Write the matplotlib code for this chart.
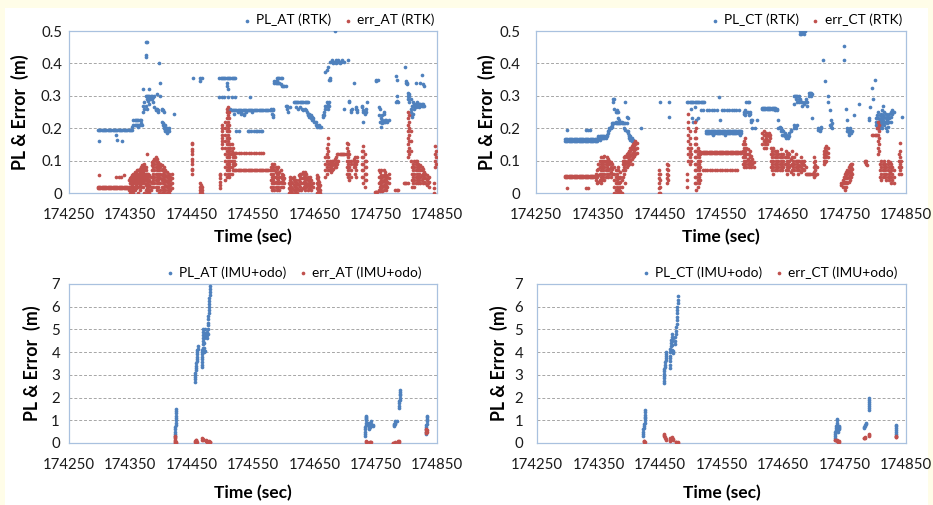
import numpy as np
import matplotlib
matplotlib.use("Agg")
import matplotlib.pyplot as plt
from matplotlib.patches import Rectangle
from matplotlib.ticker import FuncFormatter

plt.rcParams['font.family'] = ['Lato', 'DejaVu Sans']

T0 = 174000  # times below are seconds after T0

# ---- RTK, along-track ----
pl_at_rtk = [
    (297, [0.195]), (299, [0.195, 0.16]), (301, [0.195]), (303, [0.195]), (305, [0.195]),
    (307, [0.195]), (309, [0.195]), (311, [0.195]), (313, [0.195]), (315, [0.195]),
    (317, [0.195]), (319, [0.195]), (321, [0.195]), (323, [0.195]), (325, [0.195]),
    (327, [0.195, 0.18]), (329, [0.195, 0.165]), (331, [0.195]), (333, [0.195]), (335, [0.195]),
    (337, [0.195, 0.16]), (339, [0.195]), (341, [0.195]), (343, [0.195]), (345, [0.195]),
    (347, [0.195]), (349, [0.195]), (351, [0.195]), (353, [0.195, 0.205]),
    (355, [0.21, 0.225]), (357, [0.21, 0.225]), (359, [0.21, 0.225]), (361, [0.21, 0.225]),
    (363, [0.21, 0.225, 0.205]), (365, [0.21, 0.225]), (367, [0.215, 0.225]), (369, [0.21]),
    (371, [0.25, 0.27, 0.32]), (373, [0.26, 0.28]), (375, [0.42, 0.425, 0.465, 0.3, 0.27]),
    (377, [0.465, 0.29, 0.3, 0.26]), (379, [0.295, 0.3, 0.285]), (381, [0.3, 0.29, 0.32, 0.275]),
    (383, [0.3, 0.295, 0.29]), (385, [0.3, 0.29]), (387, [0.295, 0.28]), (389, [0.3, 0.265]),
    (391, [0.255, 0.26]), (393, [0.255, 0.26, 0.305]), (395, [0.25, 0.255]), (397, [0.4]),
    (399, [0.34, 0.3]), (401, [0.255, 0.26, 0.22]), (403, [0.255, 0.215, 0.21]),
    (405, [0.25, 0.205, 0.2, 0.21]), (407, [0.195, 0.19, 0.2, 0.21]), (409, [0.19, 0.185, 0.2]),
    (411, [0.19, 0.195]), (413, [0.2, 0.19]), (421, [0.245]),
    (452, [0.355]), (464, [0.355, 0.345]), (466, [0.355]),
    (495, [0.355, 0.295]), (497, [0.355]), (499, [0.355, 0.295]), (501, [0.355]),
    (503, [0.355, 0.295]), (505, [0.355]), (507, [0.355, 0.34, 0.33]), (509, [0.355, 0.32, 0.295]),
    (511, [0.355, 0.255]), (513, [0.355, 0.255, 0.26]), (515, [0.355, 0.255, 0.295]),
    (517, [0.355, 0.255]), (519, [0.355, 0.255, 0.245]), (521, [0.355, 0.255, 0.295]),
    (523, [0.255, 0.19]), (525, [0.255, 0.25]), (527, [0.255, 0.19]), (529, [0.255]),
    (531, [0.255, 0.25, 0.245]), (533, [0.255]), (535, [0.255, 0.245, 0.24]), (537, [0.255]),
    (539, [0.255, 0.25]), (541, [0.255, 0.19]), (543, [0.255, 0.19]), (545, [0.255, 0.295]),
    (547, [0.255, 0.19]), (549, [0.255, 0.25]), (551, [0.255, 0.19]), (553, [0.255]),
    (555, [0.255, 0.19]), (557, [0.255, 0.19]), (559, [0.255, 0.19]), (561, [0.255]),
    (563, [0.255, 0.19]), (565, [0.255, 0.19]), (567, [0.255]), (569, [0.255]), (571, [0.255]),
    (573, [0.255]), (575, [0.255]), (577, [0.255]), (579, [0.255, 0.26]), (581, [0.255, 0.245]),
    (583, [0.255, 0.24, 0.26, 0.235]),
    (585, [0.34, 0.345]), (587, [0.34, 0.345]), (589, [0.34, 0.355, 0.345]), (591, [0.34, 0.355]),
    (593, [0.355, 0.34]), (595, [0.355, 0.335]), (597, [0.355, 0.33]), (599, [0.33]), (601, [0.33]),
    (603, [0.33, 0.27]), (605, [0.27, 0.26]), (607, [0.25]), (611, [0.265]),
    (616, [0.28]), (618, [0.28]), (620, [0.28, 0.265]), (622, [0.28]), (624, [0.28, 0.26]),
    (626, [0.28, 0.265]), (628, [0.28]), (630, [0.28, 0.26]), (632, [0.28, 0.255]),
    (634, [0.28, 0.26]), (636, [0.28, 0.255]), (638, [0.28, 0.25]), (640, [0.28, 0.245, 0.24]),
    (642, [0.245, 0.235]), (644, [0.24, 0.23]), (646, [0.235, 0.225]), (648, [0.225, 0.23]),
    (650, [0.22]), (652, [0.22, 0.21]), (655, [0.21, 0.205]), (657, [0.205, 0.21]), (659, [0.205]),
    (661, [0.205]),
    (664, [0.235, 0.24]), (666, [0.24, 0.25]), (668, [0.26, 0.27, 0.375]), (670, [0.27, 0.28, 0.38]),
    (672, [0.275, 0.39, 0.26]), (674, [0.35, 0.28, 0.27]), (676, [0.405, 0.35, 0.355]),
    (678, [0.405, 0.41]), (680, [0.405, 0.4]), (683, [0.405, 0.5]), (685, [0.41, 0.4]), (687, [0.405]),
    (689, [0.405, 0.41]), (691, [0.405, 0.4]), (693, [0.405]), (695, [0.41]), (698, [0.26, 0.405]),
    (705, [0.41]), (707, [0.285, 0.28]), (709, [0.25, 0.255]), (711, [0.26]), (714, [0.34]),
    (718, [0.265, 0.26]), (720, [0.255, 0.25]), (728, [0.265, 0.27]), (730, [0.22, 0.25, 0.255]),
    (732, [0.25, 0.245]), (734, [0.26, 0.25]), (736, [0.28]),
    (751, [0.35, 0.345]), (753, [0.35]), (755, [0.265, 0.24]), (757, [0.26, 0.22]),
    (759, [0.205, 0.22, 0.23]), (761, [0.215, 0.225, 0.24]), (763, [0.22, 0.245, 0.25]),
    (765, [0.225, 0.22]), (767, [0.225]), (769, [0.22]), (771, [0.225]),
    (783, [0.36, 0.28]), (785, [0.35, 0.3, 0.285]), (787, [0.28]), (797, [0.39]), (799, [0.34, 0.345]),
    (801, [0.34, 0.335]), (803, [0.3, 0.31, 0.29]), (805, [0.3, 0.305, 0.28]), (807, [0.29, 0.25, 0.26]),
    (809, [0.27, 0.24, 0.235]), (811, [0.28, 0.27, 0.245]), (813, [0.275, 0.27, 0.26]),
    (815, [0.34, 0.275, 0.27, 0.265]), (817, [0.275, 0.27, 0.28]), (819, [0.275, 0.27]),
    (821, [0.27, 0.275, 0.265]), (823, [0.34, 0.275, 0.27]), (825, [0.365, 0.27, 0.275]),
    (827, [0.335, 0.27, 0.275]), (829, [0.33, 0.27]),
]

err_at_rtk = [
    (297, [0.015, 0.02]), (299, [0.015, 0.02, 0.055]), (301, [0.015, 0.02]), (303, [0.015, 0.02]),
    (305, [0.015, 0.02]), (307, [0.015, 0.02]), (309, [0.015, 0.02]), (311, [0.015, 0.02]),
    (313, [0.015, 0.02]), (315, [0.015, 0.02]), (317, [0.015, 0.02]), (319, [0.015, 0.02]),
    (321, [0.015, 0.02]), (323, [0.015, 0.02]), (325, [0.015, 0.02]), (327, [0.015, 0.02, 0.05]),
    (329, [0.015, 0.02]), (331, [0.015, 0.02, 0.05]), (333, [0.015, 0.02]), (335, [0.015, 0.02, 0.05]),
    (337, [0.015, 0.02]), (339, [0.015, 0.02, 0.055]), (341, [0.015, 0.02]), (343, [0.015, 0.02]),
    (345, [0.015, 0.02]),
    (347, [0.02, 0.01, 0.04]), (349, [0.0, 0.02, 0.03, 0.045]), (351, [0.01, 0.02, 0.03, 0.04, 0.05]),
    (353, [0.005, 0.015, 0.025, 0.035, 0.045, 0.055]), (355, [0.0, 0.01, 0.02, 0.03, 0.04, 0.05, 0.06]),
    (357, [0.01, 0.02, 0.03, 0.04, 0.05, 0.06, 0.065]), (359, [0.015, 0.025, 0.035, 0.045, 0.055, 0.065]),
    (361, [0.02, 0.03, 0.04, 0.05, 0.06, 0.07]), (363, [0.0, 0.02, 0.03, 0.04, 0.05, 0.06, 0.07]),
    (365, [0.01, 0.025, 0.035, 0.045, 0.055, 0.065, 0.075]), (367, [0.02, 0.03, 0.04, 0.05, 0.06, 0.07, 0.08]),
    (369, [0.03, 0.04, 0.05, 0.06, 0.07, 0.08, 0.085]), (371, [0.02, 0.035, 0.045, 0.055, 0.065, 0.075, 0.085]),
    (373, [0.0, 0.03, 0.04, 0.05, 0.06, 0.07, 0.08, 0.09]), (375, [0.01, 0.025, 0.04, 0.05, 0.06, 0.07, 0.08]),
    (377, [0.12, 0.0, 0.015, 0.03, 0.045, 0.06]), (379, [0.005, 0.02, 0.035, 0.05, 0.06]),
    (381, [0.0, 0.01, 0.025, 0.04, 0.055]), (383, [0.01, 0.02, 0.035, 0.05]),
    (385, [0.03, 0.05, 0.07, 0.085, 0.095]), (387, [0.02, 0.04, 0.06, 0.08, 0.1]),
    (389, [0.03, 0.05, 0.07, 0.09, 0.105]), (391, [0.02, 0.04, 0.06, 0.08, 0.1, 0.11]),
    (393, [0.01, 0.03, 0.05, 0.07, 0.09, 0.105]), (395, [0.02, 0.04, 0.06, 0.08, 0.095]),
    (397, [0.0, 0.03, 0.05, 0.07, 0.09]), (399, [0.01, 0.03, 0.045, 0.06, 0.08, 0.09]),
    (401, [0.0, 0.02, 0.04, 0.055, 0.07, 0.085]), (403, [0.01, 0.03, 0.045, 0.06, 0.075]),
    (405, [0.0, 0.02, 0.035, 0.05, 0.065, 0.08]), (407, [0.01, 0.025, 0.04, 0.055, 0.07]),
    (409, [0.0, 0.02, 0.035, 0.05, 0.065]), (411, [0.01, 0.025, 0.04, 0.055]),
    (413, [0.0, 0.015, 0.03, 0.045, 0.06]), (415, [0.01, 0.025, 0.04, 0.05]), (418, [0.015, 0.03, 0.045, 0.06]),
    (450, [0.06, 0.075, 0.09, 0.105, 0.12, 0.135, 0.15, 0.155]), (451, [0.07, 0.1, 0.13]),
    (463, [0.0, 0.01, 0.02, 0.03]), (465, [0.0, 0.005, 0.015, 0.025]), (467, [0.0, 0.01, 0.02]),
    (496, [0.015, 0.025, 0.035, 0.045, 0.055, 0.06]),
    (499, [0.14, 0.15, 0.16, 0.17, 0.18, 0.19, 0.2, 0.21]),
    (505, [0.04, 0.06, 0.08, 0.1, 0.12, 0.14, 0.16, 0.18, 0.2, 0.22]),
    (507, [0.05, 0.07, 0.09, 0.11, 0.13, 0.15, 0.17, 0.19, 0.21, 0.23, 0.25, 0.26]),
    (509, [0.06, 0.08, 0.1, 0.12, 0.14, 0.16, 0.18, 0.2, 0.22, 0.24, 0.265]),
    (511, [0.05, 0.07, 0.09, 0.11, 0.13, 0.15, 0.17, 0.19, 0.21, 0.23, 0.25]),
    (513, [0.06, 0.08, 0.1, 0.12, 0.14, 0.15]), (515, [0.06, 0.08, 0.1, 0.12, 0.13, 0.15]),
    (517, [0.07, 0.09, 0.11, 0.125, 0.14]), (519, [0.07, 0.085, 0.1, 0.12]), (521, [0.07, 0.09, 0.11, 0.125]),
    (523, [0.07, 0.125]), (525, [0.07]), (527, [0.07, 0.125]), (529, [0.07]), (531, [0.07, 0.125]),
    (533, [0.07]), (535, [0.07, 0.125]), (537, [0.07]), (539, [0.07, 0.125]), (541, [0.07]),
    (543, [0.07, 0.125]), (545, [0.07]), (547, [0.07, 0.125]), (549, [0.07]), (551, [0.07, 0.125]),
    (553, [0.07]), (555, [0.07, 0.125]), (557, [0.07]), (559, [0.07, 0.125]), (561, [0.07]),
    (563, [0.07, 0.125]), (565, [0.07]), (567, [0.07, 0.125]), (569, [0.07]), (571, [0.07]),
    (573, [0.07]), (575, [0.07]), (577, [0.07]),
    (579, [0.02, 0.04, 0.06, 0.08]), (581, [0.01, 0.03, 0.05, 0.07, 0.09]), (583, [0.02, 0.04, 0.06, 0.08]),
    (585, [0.01, 0.03, 0.05, 0.07, 0.09]), (587, [0.02, 0.035, 0.05, 0.065, 0.08]),
    (589, [0.01, 0.03, 0.045, 0.06, 0.075]), (591, [0.02, 0.04, 0.06, 0.08]),
    (593, [0.01, 0.03, 0.05, 0.065]), (595, [0.02, 0.035, 0.05, 0.07]), (597, [0.03, 0.045, 0.06]),
    (599, [0.02, 0.04, 0.055]), (601, [0.03, 0.045]),
    (608, [0.0, 0.015, 0.03]), (610, [0.0, 0.01, 0.025, 0.04, 0.05]), (612, [0.005, 0.02, 0.035, 0.045]),
    (614, [0.0, 0.015, 0.03, 0.045]), (616, [0.01, 0.025, 0.04, 0.05]), (618, [0.0, 0.02, 0.035]),
    (620, [0.01, 0.025, 0.04]), (622, [0.0, 0.015, 0.03]),
    (625, [0.01, 0.025, 0.04, 0.055]), (627, [0.02, 0.035, 0.05, 0.06]), (629, [0.01, 0.03, 0.045, 0.06]),
    (631, [0.015, 0.03, 0.045, 0.065]), (633, [0.02, 0.035, 0.05, 0.06]),
    (635, [0.01, 0.025, 0.04, 0.055, 0.065]), (637, [0.02, 0.03, 0.045, 0.06]),
    (639, [0.01, 0.025, 0.04, 0.05]), (641, [0.015, 0.03, 0.045]), (643, [0.02, 0.035, 0.05]),
    (645, [0.01, 0.025, 0.04]), (647, [0.02, 0.03]),
    (654, [0.0, 0.015, 0.03, 0.045, 0.055]), (656, [0.0, 0.01, 0.025, 0.04, 0.05]),
    (658, [0.0, 0.02, 0.035]), (660, [0.0, 0.01, 0.025]),
    (668, [0.05, 0.07, 0.09, 0.11]), (670, [0.06, 0.08, 0.1, 0.12, 0.14]),
    (672, [0.07, 0.09, 0.11, 0.13, 0.15, 0.17]),
    (675, [0.07, 0.08, 0.09, 0.1]), (677, [0.065, 0.08, 0.095]), (679, [0.07, 0.085, 0.1]),
    (681, [0.075, 0.09, 0.1]), (683, [0.08, 0.09, 0.105]), (685, [0.08, 0.095, 0.11]),
    (687, [0.12, 0.09, 0.1]), (689, [0.12, 0.1]), (691, [0.12]), (693, [0.12]), (695, [0.12]),
    (697, [0.12]), (699, [0.12]), (701, [0.12]),
    (703, [0.06, 0.08, 0.1, 0.12, 0.14, 0.155]), (705, [0.05, 0.07, 0.09, 0.11, 0.13, 0.15]),
    (707, [0.04, 0.06, 0.08, 0.1, 0.12]), (709, [0.05, 0.07, 0.09, 0.1]),
    (714, [0.08, 0.09, 0.1, 0.105]), (716, [0.06, 0.08, 0.1, 0.11]), (718, [0.05, 0.07, 0.09]),
    (720, [0.1, 0.11]),
    (728, [0.05, 0.07, 0.09, 0.11, 0.13]), (730, [0.03, 0.05, 0.07, 0.09, 0.11, 0.13, 0.145]),
    (732, [0.02, 0.04, 0.06, 0.08, 0.1, 0.12]), (734, [0.04, 0.06, 0.08, 0.1]),
    (749, [0.003]), (750, [0.003]), (751, [0.003]), (752, [0.003]),
    (755, [0.01, 0.03, 0.05, 0.07]), (757, [0.005, 0.02, 0.035, 0.05, 0.065]),
    (759, [0.01, 0.025, 0.04, 0.055, 0.07]), (761, [0.005, 0.02, 0.035, 0.05]),
    (763, [0.01, 0.025, 0.04, 0.055, 0.07]), (765, [0.02, 0.035, 0.05, 0.065]),
    (767, [0.01, 0.025, 0.04, 0.055]), (769, [0.02, 0.035, 0.05]), (771, [0.03, 0.045, 0.06]),
    (782, [0.008]), (784, [0.008]), (786, [0.008]),
    (796, [0.03]), (798, [0.03]), (800, [0.03]), (802, [0.03]),
    (803, [0.11, 0.13, 0.15, 0.17, 0.19, 0.21, 0.23, 0.25]), (805, [0.12, 0.14, 0.16, 0.18, 0.2, 0.22, 0.24]),
    (807, [0.1, 0.13, 0.16, 0.19]),
    (809, [0.02, 0.04, 0.06, 0.08]), (811, [0.03, 0.05, 0.07, 0.09]), (813, [0.02, 0.04, 0.06, 0.08, 0.1]),
    (815, [0.03, 0.05, 0.07, 0.09, 0.1]), (817, [0.04, 0.06, 0.08, 0.1]), (819, [0.03, 0.05, 0.07, 0.09]),
    (821, [0.04, 0.06, 0.08]), (823, [0.03, 0.05, 0.07, 0.085]), (825, [0.04, 0.055, 0.07, 0.08]),
    (827, [0.03, 0.045, 0.06, 0.075]), (829, [0.035, 0.05, 0.065]), (831, [0.03, 0.045, 0.06]),
    (833, [0.025, 0.04, 0.055]), (835, [0.03, 0.045]), (837, [0.02, 0.035, 0.05]),
    (845, [0.0, 0.015, 0.03]), (847, [0.08, 0.1, 0.12, 0.145]), (848, [0.09, 0.11, 0.13]),
]

# ---- RTK, cross-track ----
pl_ct_rtk = [
    (297, [0.16, 0.167]), (299, [0.16, 0.167]), (301, [0.16, 0.167, 0.195]), (303, [0.16, 0.167]),
    (305, [0.16, 0.167]), (307, [0.16, 0.167]), (309, [0.16, 0.167]), (311, [0.16, 0.167]),
    (313, [0.16, 0.167]), (315, [0.16, 0.167]), (317, [0.16, 0.167]), (319, [0.16, 0.167]),
    (321, [0.16, 0.167]), (323, [0.16, 0.167]), (325, [0.16, 0.167]), (327, [0.16, 0.167]),
    (329, [0.16, 0.167]), (331, [0.16, 0.167, 0.195]), (333, [0.16, 0.167]), (335, [0.16, 0.167, 0.195]),
    (337, [0.16, 0.167, 0.195]), (339, [0.16, 0.167]), (341, [0.16, 0.167]), (343, [0.16, 0.167]),
    (345, [0.16, 0.167]), (347, [0.16, 0.167]), (349, [0.16, 0.167]),
    (351, [0.17, 0.177]), (353, [0.175, 0.165]), (355, [0.17, 0.177]), (357, [0.17, 0.177]),
    (359, [0.17, 0.177]), (361, [0.17, 0.177]), (363, [0.17, 0.177]),
    (365, [0.18, 0.175]), (367, [0.19, 0.185]), (369, [0.2, 0.195]), (371, [0.205, 0.2]),
    (373, [0.21, 0.205, 0.215]), (375, [0.215, 0.29, 0.28]), (377, [0.215, 0.29, 0.26]),
    (379, [0.215, 0.25, 0.22]), (381, [0.215, 0.255, 0.25]), (383, [0.215, 0.25, 0.23]),
    (385, [0.215, 0.225]), (387, [0.215, 0.22]), (389, [0.215, 0.22]), (391, [0.215]),
    (393, [0.215, 0.2]), (395, [0.215, 0.28, 0.195]), (397, [0.215, 0.235, 0.19]),
    (399, [0.19, 0.185, 0.23]), (401, [0.18, 0.175, 0.17]), (403, [0.175, 0.165]),
    (405, [0.17, 0.16]), (407, [0.165, 0.16]), (421, [0.2]),
    (451, [0.28]), (466, [0.28, 0.235]),
    (495, [0.28]), (497, [0.28]), (499, [0.28]), (501, [0.28, 0.26]), (503, [0.28, 0.23]),
    (505, [0.28, 0.22]), (507, [0.28, 0.265]), (509, [0.28, 0.225]), (511, [0.28]), (513, [0.28, 0.23]),
    (515, [0.28]), (517, [0.28, 0.255]), (519, [0.28]), (521, [0.28, 0.255]), (523, [0.28]),
    (525, [0.185, 0.19]), (527, [0.185, 0.19, 0.255]), (529, [0.185, 0.19]), (531, [0.185, 0.19, 0.255]),
    (533, [0.185, 0.19]), (535, [0.185, 0.19, 0.255]), (537, [0.185, 0.19, 0.18]),
    (539, [0.185, 0.19, 0.255]), (541, [0.185, 0.19]), (543, [0.185, 0.19, 0.255]),
    (545, [0.185, 0.19]), (547, [0.185, 0.19, 0.295]), (549, [0.185, 0.19, 0.225]),
    (551, [0.185, 0.19, 0.255]), (553, [0.185, 0.19]), (555, [0.185, 0.19, 0.255]),
    (557, [0.185, 0.19, 0.18]), (559, [0.185, 0.19, 0.255]), (561, [0.185, 0.19]),
    (563, [0.185, 0.19, 0.255]), (565, [0.185, 0.19]), (567, [0.185, 0.19, 0.255]),
    (569, [0.185, 0.19]), (571, [0.185, 0.19, 0.255]), (573, [0.185, 0.19]), (575, [0.185, 0.19, 0.255]),
    (577, [0.185, 0.19]), (579, [0.185, 0.19, 0.255]), (581, [0.185, 0.19, 0.18]), (583, [0.185, 0.19]),
    (587, [0.25, 0.245]), (589, [0.255, 0.24]), (591, [0.28, 0.25]), (593, [0.28, 0.25]),
    (595, [0.28, 0.245, 0.24]), (597, [0.25, 0.245]), (599, [0.225, 0.22]), (601, [0.225, 0.2]),
    (605, [0.2]), (608, [0.225]),
    (616, [0.258, 0.262]), (618, [0.258, 0.262]), (620, [0.258, 0.262]), (622, [0.258, 0.262]),
    (624, [0.258, 0.262]), (626, [0.258, 0.262]), (628, [0.258, 0.262]), (630, [0.258, 0.262]),
    (632, [0.258, 0.262]), (634, [0.258, 0.262]), (636, [0.258, 0.262]), (638, [0.255, 0.262]),
    (640, [0.258, 0.255]),
    (643, [0.225, 0.2]), (645, [0.2, 0.205]), (647, [0.2, 0.19]), (649, [0.195, 0.18]),
    (651, [0.19, 0.18]), (653, [0.185, 0.175]), (655, [0.18, 0.17]), (657, [0.175]), (659, [0.17]),
    (661, [0.175, 0.185]), (663, [0.19, 0.195]),
    (668, [0.2, 0.21, 0.3, 0.275]), (670, [0.205, 0.3]), (672, [0.2, 0.3, 0.29]), (674, [0.21, 0.3, 0.28]),
    (676, [0.3, 0.29, 0.28]), (678, [0.5, 0.49, 0.285, 0.29]), (680, [0.5, 0.49, 0.28]),
    (682, [0.5, 0.495, 0.28, 0.27]), (684, [0.5, 0.49, 0.275]), (686, [0.5, 0.28]), (688, [0.29, 0.28]),
    (690, [0.28, 0.27]), (692, [0.3, 0.31]), (694, [0.305, 0.31]), (696, [0.3, 0.31]), (698, [0.23, 0.305]),
    (708, [0.2, 0.195]), (710, [0.19, 0.195]), (712, [0.2, 0.205]), (715, [0.41]), (719, [0.345]),
    (723, [0.3, 0.28]), (726, [0.255, 0.21]), (728, [0.225, 0.205, 0.21]), (730, [0.2, 0.215]),
    (749, [0.455]), (750, [0.41]), (752, [0.26]), (755, [0.19, 0.2, 0.225]), (757, [0.185, 0.18, 0.195]),
    (759, [0.19, 0.2]), (761, [0.185, 0.19]), (763, [0.19]), (766, [0.24]), (773, [0.275]),
    (790, [0.225, 0.23]), (792, [0.265]), (795, [0.325]), (797, [0.29]), (799, [0.35]),
    (801, [0.21, 0.22, 0.23]), (803, [0.2, 0.21, 0.22, 0.24]), (805, [0.21, 0.22, 0.23, 0.25]),
    (807, [0.2, 0.215, 0.225, 0.24]), (809, [0.21, 0.22, 0.23, 0.245]), (811, [0.22, 0.235, 0.255, 0.2]),
    (813, [0.215, 0.225, 0.24, 0.27]), (815, [0.21, 0.22, 0.235, 0.25]), (817, [0.2, 0.22, 0.23, 0.245]),
    (819, [0.19, 0.215, 0.225, 0.24]), (821, [0.205, 0.22, 0.235]), (823, [0.22, 0.23, 0.245]),
    (825, [0.22, 0.235, 0.25]), (828, [0.255, 0.245]), (831, [0.25]), (843, [0.235]),
]

err_ct_rtk = [
    (297, [0.048, 0.053]), (299, [0.048, 0.053]), (301, [0.048, 0.053, 0.015]), (303, [0.048, 0.053]),
    (305, [0.048, 0.053]), (307, [0.048, 0.053]), (309, [0.048, 0.053]), (311, [0.048, 0.053]),
    (313, [0.048, 0.053]), (315, [0.048, 0.053]), (317, [0.048, 0.053]), (319, [0.048, 0.053]),
    (321, [0.048, 0.053]), (323, [0.048, 0.053]), (325, [0.048, 0.053]), (327, [0.048, 0.053]),
    (329, [0.048, 0.053]), (331, [0.048, 0.053, 0.015]), (333, [0.048, 0.053]), (335, [0.048, 0.053, 0.015]),
    (337, [0.048, 0.053]), (339, [0.048, 0.053]), (341, [0.048, 0.053]), (343, [0.048, 0.053]),
    (345, [0.048, 0.053]),
    (347, [0.04, 0.06]), (349, [0.03, 0.05, 0.07]), (351, [0.035, 0.055, 0.075, 0.09]),
    (353, [0.04, 0.06, 0.08, 0.1]), (355, [0.03, 0.05, 0.07, 0.09, 0.11]), (357, [0.04, 0.06, 0.08, 0.1]),
    (359, [0.05, 0.07, 0.09, 0.11]), (361, [0.04, 0.06, 0.08, 0.1, 0.115]), (363, [0.05, 0.07, 0.09, 0.1]),
    (365, [0.06, 0.08, 0.1, 0.11]), (367, [0.05, 0.07, 0.09, 0.105]), (369, [0.06, 0.075, 0.09, 0.1]),
    (371, [0.05, 0.065, 0.08, 0.095]), (373, [0.06, 0.075, 0.09]),
    (377, [0.0, 0.02, 0.04, 0.06, 0.08]), (379, [0.01, 0.03, 0.05, 0.07]), (381, [0.0, 0.02, 0.04, 0.06]),
    (383, [0.01, 0.03, 0.05, 0.07, 0.08]), (385, [0.0, 0.015, 0.03, 0.045]),
    (387, [0.005, 0.02, 0.035, 0.05, 0.065]), (389, [0.0, 0.02, 0.04]),
    (391, [0.05, 0.07, 0.09, 0.1]), (393, [0.06, 0.08, 0.1, 0.11]), (395, [0.07, 0.09, 0.1, 0.115, 0.03]),
    (397, [0.08, 0.095, 0.11, 0.12]), (399, [0.085, 0.1, 0.115, 0.125]), (401, [0.09, 0.105, 0.12, 0.13]),
    (403, [0.1, 0.115, 0.13, 0.14]), (405, [0.105, 0.12, 0.135, 0.145, 0.09]),
    (407, [0.11, 0.125, 0.14, 0.15]), (409, [0.115, 0.13, 0.145, 0.155]), (411, [0.12, 0.135, 0.15, 0.16]),
    (413, [0.125, 0.14, 0.155]),
    (449, [0.0, 0.015, 0.03, 0.045, 0.06, 0.07]), (451, [0.0, 0.02, 0.04, 0.06]),
    (462, [0.03, 0.045, 0.06, 0.075, 0.09]), (464, [0.04, 0.055, 0.07, 0.085]),
    (495, [0.02, 0.04, 0.06]), (497, [0.1, 0.12, 0.14, 0.16, 0.18, 0.2, 0.22, 0.245]),
    (499, [0.09, 0.11, 0.13, 0.15, 0.17, 0.19]), (501, [0.1, 0.12, 0.14]),
    (508, [0.03, 0.05, 0.07, 0.09, 0.11, 0.13, 0.15, 0.17, 0.19, 0.22]),
    (510, [0.01, 0.03, 0.05, 0.07, 0.09, 0.11, 0.13, 0.15, 0.17, 0.2]),
    (512, [0.02, 0.04, 0.06, 0.08, 0.1, 0.12, 0.14]), (514, [0.03, 0.05, 0.07, 0.09, 0.11, 0.13]),
    (516, [0.04, 0.06, 0.08, 0.1, 0.12]),
    (518, [0.122, 0.128]), (520, [0.122, 0.128, 0.07]), (522, [0.122, 0.128]), (524, [0.122, 0.128, 0.07]),
    (526, [0.122, 0.128]), (528, [0.122, 0.128, 0.07]), (530, [0.122, 0.128]), (532, [0.122, 0.128, 0.07]),
    (534, [0.122, 0.128]), (536, [0.122, 0.128, 0.07]), (538, [0.122, 0.128]), (540, [0.122, 0.128, 0.07]),
    (542, [0.122, 0.128]), (544, [0.122, 0.128, 0.07]), (546, [0.122, 0.128]), (548, [0.122, 0.128, 0.07]),
    (550, [0.122, 0.128]), (552, [0.122, 0.128, 0.07]), (554, [0.122, 0.128]), (556, [0.122, 0.128, 0.07]),
    (558, [0.122, 0.128]), (560, [0.122, 0.128, 0.07]), (562, [0.122, 0.128]), (564, [0.122, 0.128, 0.07]),
    (566, [0.122, 0.128]), (568, [0.122, 0.128, 0.07]), (570, [0.122, 0.128]), (572, [0.122, 0.128, 0.07]),
    (574, [0.122, 0.128]), (576, [0.122, 0.128, 0.07]), (578, [0.122, 0.128]), (580, [0.122, 0.128]),
    (582, [0.122, 0.128]),
    (585, [0.09, 0.11, 0.13, 0.15]), (587, [0.08, 0.1, 0.12, 0.14, 0.16]), (589, [0.09, 0.11, 0.13, 0.15, 0.17]),
    (591, [0.08, 0.1, 0.12, 0.14]), (593, [0.09, 0.105, 0.12, 0.135]), (595, [0.08, 0.1, 0.12]),
    (597, [0.09, 0.11, 0.13]), (599, [0.08, 0.1, 0.115]), (601, [0.09, 0.105]), (604, [0.08, 0.095]),
    (617, [0.15, 0.17, 0.185]), (619, [0.14, 0.16, 0.18, 0.19]), (621, [0.15, 0.165, 0.18]),
    (623, [0.14, 0.155, 0.17, 0.185]), (625, [0.15, 0.165, 0.18]), (627, [0.16, 0.175, 0.185]),
    (629, [0.17, 0.18]),
    (631, [0.08, 0.1, 0.12, 0.14]), (633, [0.07, 0.09, 0.11, 0.13]), (635, [0.06, 0.08, 0.1, 0.12, 0.14]),
    (637, [0.07, 0.09, 0.11, 0.13]), (639, [0.08, 0.1, 0.12]), (641, [0.07, 0.09, 0.11, 0.13]),
    (643, [0.08, 0.1, 0.12]), (645, [0.07, 0.09, 0.11]), (647, [0.08, 0.1, 0.12, 0.135]),
    (649, [0.07, 0.09, 0.11]), (651, [0.08, 0.1, 0.12]), (653, [0.09, 0.11]),
    (655, [0.07, 0.09, 0.11, 0.13]), (657, [0.06, 0.08, 0.1, 0.12]), (659, [0.07, 0.09, 0.11, 0.125]),
    (661, [0.08, 0.1, 0.12]), (663, [0.065, 0.085, 0.105]), (665, [0.07, 0.09, 0.11, 0.13]),
    (667, [0.06, 0.08, 0.1]), (669, [0.07, 0.09, 0.11]), (671, [0.08, 0.1, 0.12]), (673, [0.07, 0.09, 0.1]),
    (675, [0.06, 0.08, 0.1]),
    (677, [0.07, 0.085, 0.1]), (679, [0.065, 0.08, 0.095, 0.11]), (681, [0.07, 0.09, 0.1]),
    (683, [0.075, 0.09]), (685, [0.07, 0.085, 0.1]), (687, [0.06, 0.08]), (689, [0.06]), (691, [0.06]),
    (693, [0.06]), (695, [0.06]), (697, [0.06]), (699, [0.06]),
    (701, [0.05, 0.065, 0.08, 0.095, 0.11]), (703, [0.055, 0.07, 0.085, 0.1]), (705, [0.06, 0.08]),
    (717, [0.09, 0.1, 0.11, 0.12, 0.13]), (719, [0.095, 0.11, 0.125, 0.14]), (721, [0.1, 0.115, 0.13, 0.145]),
    (723, [0.11, 0.125, 0.14]),
    (745, [0.025, 0.03]), (747, [0.02, 0.03, 0.04]), (749, [0.02, 0.035, 0.05]),
    (751, [0.01, 0.03, 0.045, 0.06]), (753, [0.02, 0.035, 0.05, 0.065]), (755, [0.03, 0.045, 0.06, 0.07]),
    (757, [0.035, 0.05, 0.065, 0.08]), (759, [0.04, 0.055, 0.07, 0.085]), (761, [0.05, 0.065, 0.08, 0.09]),
    (763, [0.06, 0.075, 0.09]),
    (783, [0.095, 0.1]), (785, [0.09, 0.1]), (787, [0.085]),
    (795, [0.18]), (797, [0.18]), (799, [0.18]), (801, [0.18]), (803, [0.18, 0.2]),
    (805, [0.12, 0.14, 0.16, 0.18, 0.2, 0.22]), (806, [0.13, 0.15, 0.17, 0.19, 0.21]),
    (808, [0.05, 0.07, 0.09]), (810, [0.04, 0.06, 0.08, 0.1]), (812, [0.05, 0.07, 0.09]),
    (814, [0.06, 0.08, 0.1]), (816, [0.05, 0.07, 0.09]), (818, [0.04, 0.06, 0.08]),
    (820, [0.05, 0.07, 0.09, 0.1]), (822, [0.04, 0.06, 0.08]), (824, [0.05, 0.065, 0.08, 0.095]),
    (826, [0.03, 0.05, 0.07, 0.09]), (828, [0.04, 0.06, 0.08]), (830, [0.03, 0.05, 0.07]),
    (838, [0.06, 0.08, 0.1, 0.12]), (840, [0.07, 0.09, 0.11, 0.13, 0.155]), (842, [0.06, 0.08, 0.1]),
]

# ---- IMU + odometer ----
pl_at_imu = [
    (423, [0.3, 0.4, 0.5, 0.6, 0.7]), (424, [0.8, 0.9, 1.0, 1.1]), (425, [1.2, 1.3, 1.4, 1.5]),
    (456, [2.7, 2.8, 2.9, 3.0, 3.1]), (457, [3.2, 3.3, 3.4, 3.5]), (458, [3.6, 3.7, 3.8]),
    (459, [3.9, 4.0, 4.1]), (460, [4.15, 4.25]),
    (466, [3.35, 3.45, 3.55, 3.7]), (467, [3.8, 3.9, 4.0, 4.1]), (468, [4.2, 4.35, 4.5]),
    (469, [4.6, 4.75, 4.9, 5.0]), (470, [4.0, 4.2, 4.4, 4.6]), (471, [4.7, 4.85, 5.0, 4.05]),
    (475, [4.6, 4.75, 4.9]), (476, [4.8, 5.0, 5.2]), (477, [5.3, 5.45, 5.6]),
    (478, [5.7, 5.85, 6.0]), (479, [6.1, 6.25, 6.4]), (480, [6.5, 6.65, 6.8, 6.9]),
    (733, [0.3, 0.4, 0.5, 0.6, 0.7]), (734, [0.8, 0.9, 1.0]), (735, [1.05, 1.1, 1.15, 1.2]),
    (737, [0.85, 0.9]), (739, [0.6, 0.65, 0.7, 0.75]), (741, [0.7, 0.8, 0.9]), (743, [0.75, 0.85, 0.95]),
    (745, [0.75, 0.8]),
    (780, [0.75, 0.8, 0.85]), (782, [0.85, 0.9, 0.95]), (784, [0.95]),
    (788, [1.55, 1.65, 1.75, 1.85]), (789, [1.9, 2.0, 2.1]), (790, [2.15, 2.25, 2.35]),
    (832, [0.4, 0.5, 0.6, 0.7, 0.8]), (833, [0.85, 0.95, 1.05, 1.15, 1.2]),
]

err_at_imu = [
    (423, [0.0, 0.05, 0.1, 0.15, 0.2, 0.25, 0.3]), (425, [0.0, 0.05]),
    (455, [0.05, 0.08]), (457, [0.1, 0.12, 0.15]), (459, [0.05]),
    (467, [0.15, 0.2]), (469, [0.18, 0.12]), (473, [0.1, 0.12, 0.08]), (475, [0.05, 0.1]),
    (478, [0.05, 0.08]), (480, [0.03, 0.05]),
    (734, [0.05, 0.08]), (736, [0.05]), (740, [0.05, 0.03]), (742, [0.04]),
    (779, [0.0, 0.02]), (781, [0.03]), (786, [0.05, 0.08]), (788, [0.1, 0.06]),
    (832, [0.45, 0.5, 0.55, 0.6]), (833, [0.5, 0.55]),
]

pl_ct_imu = [
    (423, [0.3, 0.4, 0.5, 0.6]), (424, [0.65, 0.75, 0.85]), (425, [0.9, 1.0, 1.1]),
    (426, [1.15, 1.25, 1.35, 1.45]),
    (456, [2.65, 2.75, 2.85, 2.95]), (457, [3.05, 3.15, 3.25]), (458, [3.35, 3.45, 3.55]),
    (459, [3.65, 3.75, 3.85]), (460, [3.9, 4.0]),
    (466, [3.3, 3.45, 3.6, 3.75]), (467, [3.85, 4.0, 4.15]), (468, [4.25, 4.4, 4.55]),
    (469, [4.65, 4.8]), (470, [4.5, 4.3, 4.1]), (471, [3.95, 4.05, 4.6]),
    (475, [4.35, 4.5, 4.65]), (476, [4.8, 4.95, 5.1]), (477, [5.25, 5.4, 5.55]),
    (478, [5.7, 5.85, 6.0]), (479, [6.15, 6.3, 6.45]),
    (735, [0.2, 0.3, 0.4, 0.5]), (736, [0.55, 0.65, 0.75]), (737, [0.8, 0.9, 1.0, 1.05]),
    (739, [0.5, 0.55, 0.6]), (741, [0.6, 0.65, 0.7, 0.75]),
    (781, [0.65, 0.7]), (783, [0.75, 0.8]), (785, [0.85, 0.9]),
    (789, [1.45, 1.55, 1.65]), (790, [1.7, 1.8, 1.9, 2.0]),
    (833, [0.3, 0.4, 0.5]), (834, [0.55, 0.65, 0.75, 0.8]),
]

err_ct_imu = [
    (424, [0.05, 0.08, 0.1]), (425, [0.05]),
    (456, [0.4, 0.35, 0.3]), (458, [0.25, 0.2]), (460, [0.15, 0.18]),
    (467, [0.1, 0.15, 0.2]), (469, [0.22, 0.25]), (471, [0.18, 0.12]), (476, [0.05, 0.03]),
    (479, [0.02, 0.04]),
    (735, [0.15, 0.12]), (737, [0.1, 0.15]), (739, [0.08, 0.05]), (741, [0.05, 0.1]),
    (782, [0.2, 0.22]), (784, [0.2, 0.25]), (789, [0.3, 0.35, 0.38]),
    (833, [0.25, 0.3]), (834, [0.28]),
]

BLUE = '#4f81bd'
RED = '#c0504d'


def unpack(rows):
    t = [T0 + r[0] for r in rows for _ in r[1]]
    v = [y for r in rows for y in r[1]]
    return t, v


def fmt_small(v, pos):
    return '0' if abs(v) < 1e-9 else '%.1f' % v


panels = [
    # rect, pl, err, pl label, err label, ymax, ystep, ytick pad, ylabel x, legend anchor
    ([0.0740, 0.6178, 0.3944, 0.3208], pl_at_rtk, err_at_rtk, 'PL_AT (RTK)', 'err_AT (RTK)',
     0.5, 0.1, 5, -0.108, (0.466, 0.960)),
    ([0.5745, 0.6178, 0.3966, 0.3208], pl_ct_rtk, err_ct_rtk, 'PL_CT (RTK)', 'err_CT (RTK)',
     0.5, 0.1, 11, -0.107, (0.967, 0.960)),
    ([0.0740, 0.1228, 0.3944, 0.3149], pl_at_imu, err_at_imu, 'PL_AT (IMU+odo)', 'err_AT (IMU+odo)',
     7, 1, 6.5, -0.075, (0.452, 0.460)),
    ([0.5756, 0.1228, 0.3955, 0.3149], pl_ct_imu, err_ct_imu, 'PL_CT (IMU+odo)', 'err_CT (IMU+odo)',
     7, 1, 10, -0.080, (0.962, 0.460)),
]

fig = plt.figure(figsize=(9.33, 5.05), dpi=100, facecolor='#fffde8')
fig.patches.append(Rectangle((0.0054, 0.0), 0.9897, 0.984, transform=fig.transFigure,
                             facecolor='white', edgecolor='none', zorder=-10))

for rect, pl, err, pl_lab, err_lab, ymax, ystep, ypad, ylx, leg_xy in panels:
    ax = fig.add_axes(rect)
    ax.set_facecolor('white')
    t1, v1 = unpack(pl)
    t2, v2 = unpack(err)
    h1 = ax.scatter(t1, v1, s=7, color=BLUE, linewidths=0, label=pl_lab, zorder=3)
    h2 = ax.scatter(t2, v2, s=7, color=RED, linewidths=0, label=err_lab, zorder=3)

    ax.set_xlim(174250, 174850)
    ax.set_ylim(0, ymax)
    ax.set_xticks(np.arange(174250, 174851, 100))
    ax.set_xticklabels([str(x) for x in range(174250, 174851, 100)])
    ax.set_yticks(np.arange(0, ymax + ystep / 2, ystep))
    if ymax < 1:
        ax.yaxis.set_major_formatter(FuncFormatter(fmt_small))
    ax.tick_params(axis='both', length=0, labelsize=10.8, colors='#1a1a1a')
    ax.tick_params(axis='x', pad=10.5)
    ax.tick_params(axis='y', pad=ypad)

    ax.yaxis.grid(True, linestyle=(0, (3, 2)), color='#a6a6a6', linewidth=0.7)
    ax.set_axisbelow(True)
    for sp in ax.spines.values():
        sp.set_color('#a9c1df')
        sp.set_linewidth(0.9)

    ax.set_xlabel('Time (sec)', fontsize=12.5, fontweight='bold')
    ax.set_ylabel('PL & Error  (m)', fontsize=12.8, fontweight='bold')
    ax.xaxis.set_label_coords(0.5, -0.225 if ymax < 1 else -0.262)
    ax.yaxis.set_label_coords(ylx, 0.5)

    fig.legend(handles=[h1, h2], loc='center right', bbox_to_anchor=leg_xy,
               bbox_transform=fig.transFigure, ncol=2, frameon=False, fontsize=9.8,
               handlelength=0.6, handletextpad=0.4, columnspacing=0.9,
               borderpad=0, borderaxespad=0, markerscale=1.0)

fig.savefig('out.png', dpi=100, facecolor=fig.get_facecolor())
